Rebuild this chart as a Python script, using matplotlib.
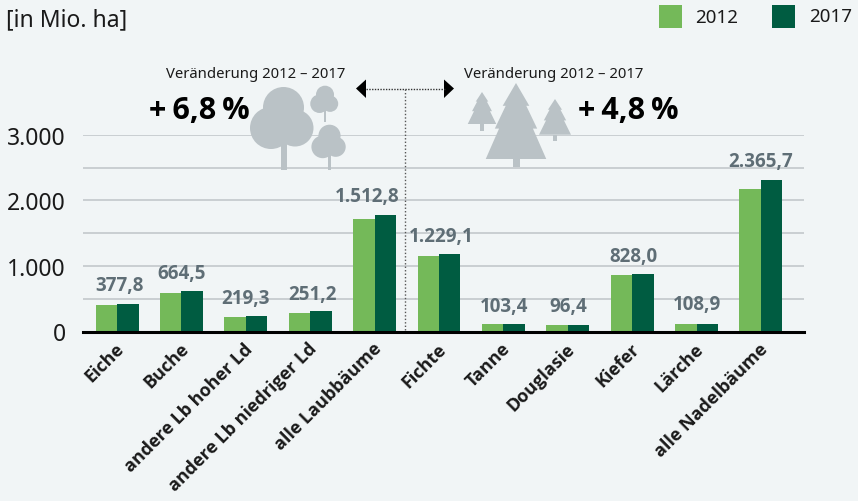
import matplotlib
matplotlib.use("Agg")
import matplotlib.pyplot as plt
from matplotlib.patches import Circle, Polygon, Rectangle
from matplotlib.transforms import ScaledTranslation

W, H = 858, 502
BG = "#f1f5f6"
C12 = "#74b959"
C17 = "#005c41"
GREY = "#5f6e76"
ICON = "#bac2c6"
plt.rcParams["font.family"] = ["Noto Sans", "DejaVu Sans"]
BOLD = ["Open Sans", "DejaVu Sans"]

categories = ["Eiche", "Buche", "andere Lb hoher Ld", "andere Lb niedriger Ld", "alle Laubbäume",
              "Fichte", "Tanne", "Douglasie", "Kiefer", "Lärche", "alle Nadelbäume"]
values_2012 = [404, 587, 221, 282, 1715, 1151, 114, 99, 861, 114, 2172]
values_2017 = [419, 617, 236, 312, 1776, 1181, 114, 99, 877, 114, 2309]
bar_labels = ["377,8", "664,5", "219,3", "251,2", "1.512,8", "1.229,1", "103,4", "96,4", "828,0", "108,9", "2.365,7"]
y_ticks = [0, 1000, 2000, 3000]
y_tick_labels = ["0", "1.000", "2.000", "3.000"]
grid_values = [500, 1000, 1500, 2000, 2500, 3000]

LABEL_Y = [709, 887, 506, 576, 2061, 1451, 393, 393, 1155, 419, 2594]
LABEL_DX = [2, 0.5, 0, 2, -7, 2, 1, 0.7, 1.7, 0.7, 0]

fig = plt.figure(figsize=(W / 100, H / 100), dpi=100, facecolor=BG)
ax = fig.add_axes([82.5 / W, 1 - 332.5 / H, (804 - 82.5) / W, (332.5 - 135.7) / H])
ax.set_facecolor("none")
ax.set_ylim(0, 3000)
step = 64.4
x0 = 117
xs = [(x0 + i * step - 82.5) / step for i in range(len(categories))]
ax.set_xlim(0, (804 - 82.5) / step)
bw = 21.5 / step
ax.bar([x - bw / 2 for x in xs], values_2012, bw, color=C12, zorder=3)
ax.bar([x + bw / 2 for x in xs], values_2017, bw, color=C17, zorder=3)
for g in grid_values:
    ax.axhline(g, color="#c3c8cb", lw=1.2, zorder=1)
for s in ["top", "right", "left"]:
    ax.spines[s].set_visible(False)
ax.spines["bottom"].set_linewidth(2.2)
ax.spines["bottom"].set_color("black")
ax.spines["bottom"].set_zorder(5)
ax.set_yticks(y_ticks, y_tick_labels, fontsize=16.5, color="#1a1a1a")
ax.tick_params(axis="y", length=0, pad=12)
ax.set_xticks(xs)
ax.set_xticklabels(categories, rotation=45, ha="right", rotation_mode="anchor",
                   fontsize=13, fontweight="bold", family=BOLD, color="#1a1a1a")
ax.tick_params(axis="x", length=0, pad=5.5)
shift = ScaledTranslation(-2 / 100, 0, fig.dpi_scale_trans)
for lab in ax.get_xticklabels():
    lab.set_transform(lab.get_transform() + shift)
for x, v, t, dx in zip(xs, LABEL_Y, bar_labels, LABEL_DX):
    ax.text(x + dx / step, v, t, ha="center", va="center", fontsize=13.5, fontweight="bold",
            family=BOLD, color=GREY, zorder=6)

ov = fig.add_axes([0, 0, 1, 1], facecolor="none")
ov.set_xlim(0, W)
ov.set_ylim(H, 0)
ov.axis("off")

def text(x, y, s, **kw):
    ov.text(x, y, s, va="center", **kw)

text(6, 20, "[in Mio. ha]", fontsize=16.5, color="#1a1a1a")
text(166, 74, "Veränderung 2012 – 2017", fontsize=10.7, color="#1a1a1a")
text(464, 74, "Veränderung 2012 – 2017", fontsize=10.7, color="#1a1a1a")
text(149, 111, "+\u20096,8\u2009%", fontsize=22, fontweight="bold", family=BOLD, color="black")
text(578, 111, "+\u20094,8\u2009%", fontsize=22, fontweight="bold", family=BOLD, color="black")

ov.add_patch(Rectangle((659, 6), 23, 23, color=C12, lw=0))
ov.add_patch(Rectangle((772, 6), 23, 23, color=C17, lw=0))
text(695, 18, "2012", fontsize=13.5, color="#1a1a1a")
text(809, 17, "2017", fontsize=13.5, color="#1a1a1a")

# dotted divider and arrows
ov.plot([366, 445], [89.5, 89.5], color="#333333", lw=1, ls=(0, (1, 1)))
ov.plot([405, 405], [89.5, 331], color="#555555", lw=1, ls=(0, (1, 1.5)), zorder=6)
ov.add_patch(Polygon([[356, 89.5], [366, 80.5], [366, 99]], color="black", lw=0))
ov.add_patch(Polygon([[454, 89.5], [444, 80.5], [444, 99]], color="black", lw=0))

def leaf_tree(cx, top, s):
    ov.add_patch(Rectangle((cx - 3 * s, top + 50 * s), 6 * s, 33 * s, color=ICON, lw=0))
    for dx, dy, r in [(0, 20.5, 20.5), (-12.5, 41, 21), (11.5, 41, 18.5), (0, 38, 18)]:
        ov.add_patch(Circle((cx + dx * s, top + dy * s), r * s, color=ICON, lw=0))

leaf_tree(283.5, 88, 1.0)
leaf_tree(325, 86.7, 0.44)
leaf_tree(329.5, 125.7, 0.54)

def fir(cx, top, w, h, trunk_w, trunk_h):
    pts = [(cx, top), (cx + .22 * w, top + .30 * h), (cx + .17 * w, top + .30 * h),
           (cx + .35 * w, top + .60 * h), (cx + .28 * w, top + .60 * h),
           (cx + .5 * w, top + h), (cx - .5 * w, top + h),
           (cx - .28 * w, top + .60 * h), (cx - .35 * w, top + .60 * h),
           (cx - .17 * w, top + .30 * h), (cx - .22 * w, top + .30 * h)]
    ov.add_patch(Polygon(pts, color=ICON, lw=0))
    ov.add_patch(Rectangle((cx - trunk_w / 2, top + h), trunk_w, trunk_h, color=ICON, lw=0))

fir(516, 84, 60.5, 76, 7, 8)
fir(482, 93, 28.5, 32, 4.5, 6.7)
fir(555, 100, 32, 35.7, 4.5, 6.5)

fig.savefig("out.png", dpi=100, facecolor=BG)
